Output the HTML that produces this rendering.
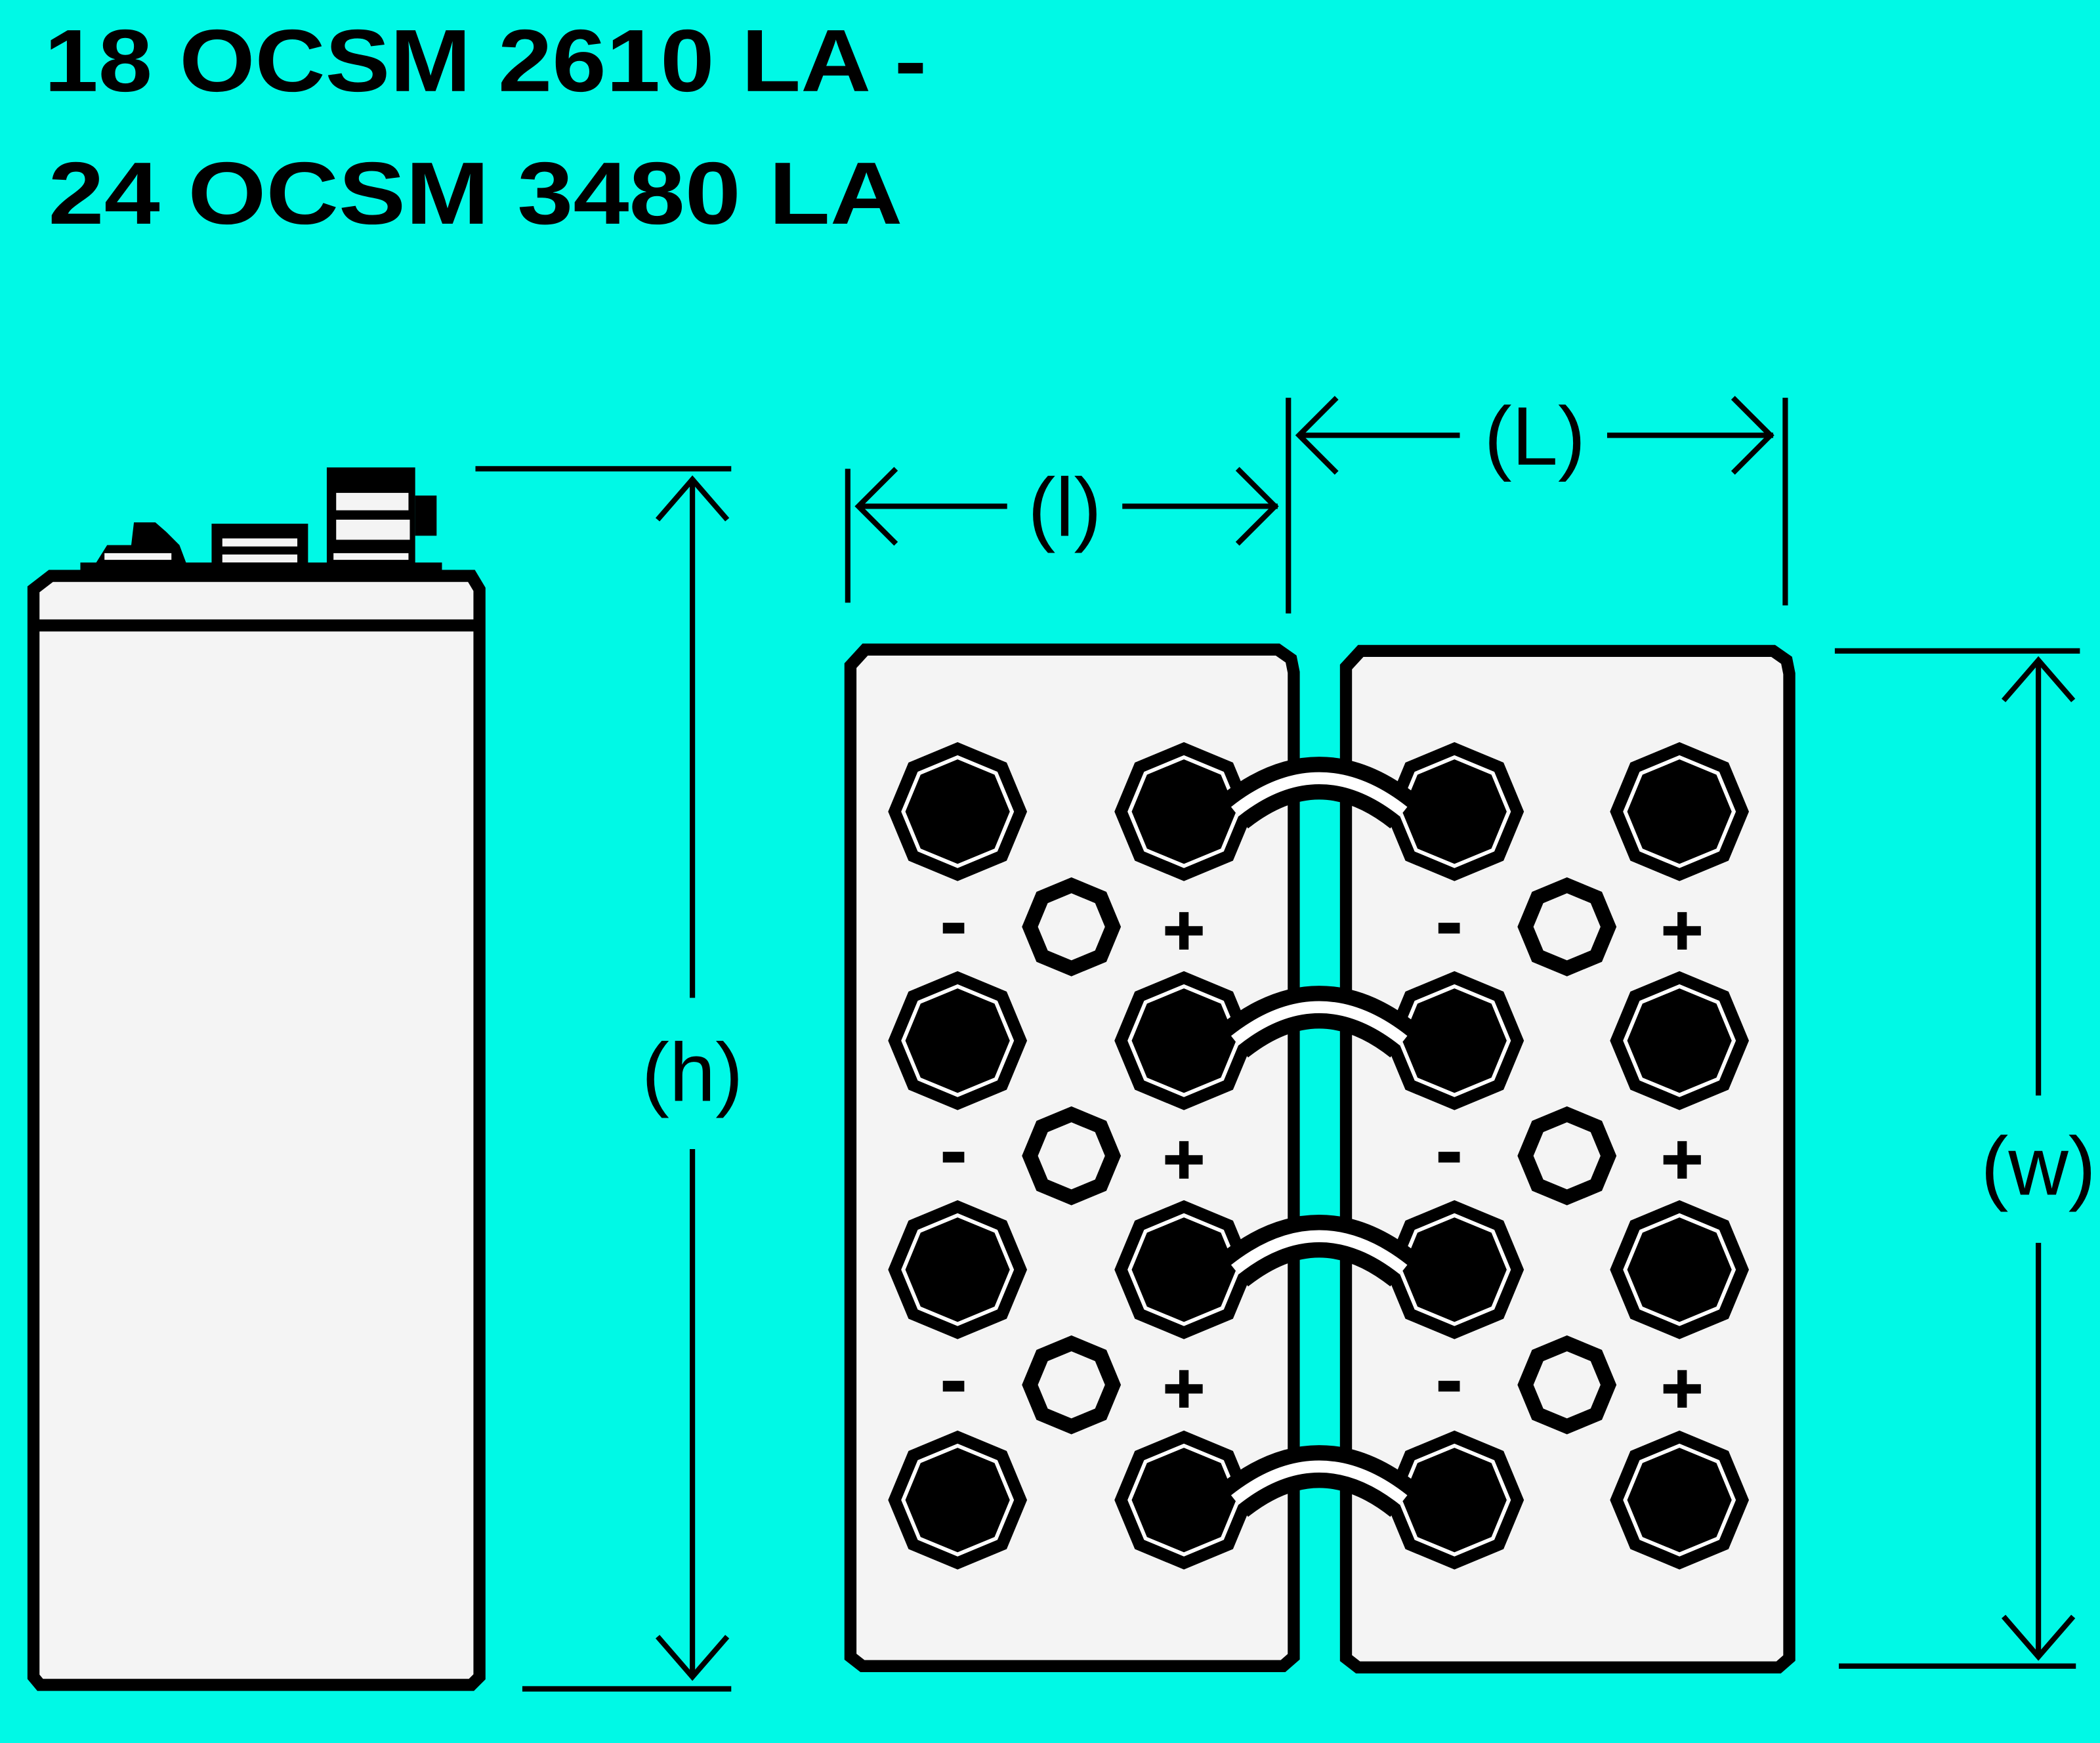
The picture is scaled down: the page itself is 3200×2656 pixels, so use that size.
<!DOCTYPE html>
<html><head><meta charset="utf-8"><style>
html,body{margin:0;padding:0;background:#00f9e6;}
svg{display:block;}
</style></head><body>
<svg width="3200" height="2656" viewBox="0 0 1568 1301.4" xmlns="http://www.w3.org/2000/svg">
<defs>
<g id="term">
<polygon points="47,0 33.2,33.2 0,47 -33.2,33.2 -47,0 -33.2,-33.2 0,-47 33.2,-33.2" fill="#fff" stroke="#000" stroke-width="9"/>
<polygon points="39,0 27.6,27.6 0,39 -27.6,27.6 -39,0 -27.6,-27.6 0,-39 27.6,-27.6" fill="#000"/>
</g>
<g id="vent">
<polygon points="31,0 21.9,21.9 0,31 -21.9,21.9 -31,0 -21.9,-21.9 0,-31 21.9,-21.9" fill="#f4f4f4" stroke="#000" stroke-width="11"/>
</g>
<path id="conn" d="M922,606 Q985,556 1048,606" fill="none"/>
</defs>
<rect width="1568" height="1301.4" fill="#00f9e6"/>

<g font-family="Liberation Sans, Arial, sans-serif" font-weight="bold" font-size="66" fill="#000">
<text x="33" y="68" textLength="659" lengthAdjust="spacingAndGlyphs">18 OCSM 2610 LA -</text>
<text x="36" y="167" textLength="638" lengthAdjust="spacingAndGlyphs">24 OCSM 3480 LA</text>
</g>

<!-- left cell side view -->
<path d="M70,423 L80,407 L98,407 L100,390 L116,390 L124,397 L134,407 L140,423 Z" fill="#000"/>
<rect x="158" y="391" width="72" height="35" fill="#000"/>
<rect x="166" y="402" width="56" height="6" fill="#f4f4f4"/>
<rect x="166" y="414" width="56" height="6" fill="#f4f4f4"/>
<rect x="244" y="349" width="66" height="77" fill="#000"/>
<rect x="310" y="370" width="16" height="30" fill="#000"/>
<rect x="251" y="368" width="54" height="13" fill="#f4f4f4"/>
<rect x="251" y="388" width="55" height="15" fill="#f4f4f4"/>
<rect x="249" y="413" width="56" height="5" fill="#f4f4f4"/>
<rect x="78" y="413" width="50" height="5" fill="#f4f4f4"/>
<rect x="60" y="420" width="270" height="10" fill="#000"/>
<path d="M38,430 L352,430 L358,440 L358,1252 L352,1258 L30,1258 L25,1252 L25,440 Z" fill="#f4f4f4" stroke="#000" stroke-width="9"/>
<line x1="25" y1="467" x2="361" y2="467" stroke="#000" stroke-width="9"/>

<!-- h dimension -->
<g stroke="#000" stroke-width="4" fill="none">
<line x1="355" y1="350" x2="546" y2="350"/>
<line x1="390" y1="1261" x2="546" y2="1261"/>
<line x1="517" y1="357" x2="517" y2="745"/>
<line x1="517" y1="858" x2="517" y2="1252"/>
<polyline points="491,388 517,358 543,388"/>
<polyline points="491,1222 517,1252 543,1222"/>
<line x1="633" y1="350" x2="633" y2="450"/>
<line x1="962" y1="297" x2="962" y2="458"/>
<line x1="641" y1="378" x2="752" y2="378"/>
<line x1="838" y1="378" x2="954" y2="378"/>
<polyline points="669,350 641,378 669,406"/>
<polyline points="924,350 952,378 924,406"/>
<line x1="1333" y1="297" x2="1333" y2="452"/>
<line x1="970" y1="325" x2="1090" y2="325"/>
<line x1="1200" y1="325" x2="1324" y2="325"/>
<polyline points="998,297 970,325 998,353"/>
<polyline points="1294,297 1322,325 1294,353"/>
<line x1="1370" y1="486" x2="1553" y2="486"/>
<line x1="1373" y1="1244" x2="1550" y2="1244"/>
<line x1="1522" y1="493" x2="1522" y2="818"/>
<line x1="1522" y1="928" x2="1522" y2="1237"/>
<polyline points="1496,523 1522,493 1548,523"/>
<polyline points="1496,1207 1522,1237 1548,1207"/>
</g>
<g font-family="Liberation Sans, Arial, sans-serif" font-size="62" fill="#000" text-anchor="middle">
<text x="517" y="822">(h)</text>
<text x="795" y="400">(l)</text>
<text x="1146" y="347">(L)</text>
<text x="1522" y="892">(w)</text>
</g>

<!-- plates -->
<path d="M646,485 L954,485 L964,492 L966,502 L966,1237 L958,1244 L644,1244 L635,1237 L635,497 Z" fill="#f4f4f4" stroke="#000" stroke-width="9"/>
<path d="M1016,486 L1324,486 L1334,493 L1336,503 L1336,1238 L1328,1245 L1014,1245 L1005,1238 L1005,498 Z" fill="#f4f4f4" stroke="#000" stroke-width="9"/>

<g>
<use href="#term" x="715" y="606"/><use href="#term" x="884" y="606"/><use href="#term" x="1086" y="606"/><use href="#term" x="1254" y="606"/>
<use href="#term" x="715" y="777"/><use href="#term" x="884" y="777"/><use href="#term" x="1086" y="777"/><use href="#term" x="1254" y="777"/>
<use href="#term" x="715" y="948"/><use href="#term" x="884" y="948"/><use href="#term" x="1086" y="948"/><use href="#term" x="1254" y="948"/>
<use href="#term" x="715" y="1120"/><use href="#term" x="884" y="1120"/><use href="#term" x="1086" y="1120"/><use href="#term" x="1254" y="1120"/>
</g>
<g>
<use href="#vent" x="800" y="692"/><use href="#vent" x="1170" y="692"/>
<use href="#vent" x="800" y="863"/><use href="#vent" x="1170" y="863"/>
<use href="#vent" x="800" y="1034"/><use href="#vent" x="1170" y="1034"/>
</g>
<g fill="none">
<g stroke="#000" stroke-width="32">
<use href="#conn"/><use href="#conn" y="171"/><use href="#conn" y="342"/><use href="#conn" y="514"/>
</g>
<g stroke="#fff" stroke-width="9">
<use href="#conn"/><use href="#conn" y="171"/><use href="#conn" y="342"/><use href="#conn" y="514"/>
</g>
</g>
<g fill="#000">
<rect x="704" y="689" width="16" height="8"/><rect x="1074" y="689" width="16" height="8"/>
<rect x="704" y="860" width="16" height="8"/><rect x="1074" y="860" width="16" height="8"/>
<rect x="704" y="1031" width="16" height="8"/><rect x="1074" y="1031" width="16" height="8"/>
</g>
<g stroke="#000" stroke-width="7">
<path d="M870,695 H898 M884,681 V709"/>
<path d="M1242,695 H1270 M1256,681 V709"/>
<path d="M870,866 H898 M884,852 V880"/>
<path d="M1242,866 H1270 M1256,852 V880"/>
<path d="M870,1037 H898 M884,1023 V1051"/>
<path d="M1242,1037 H1270 M1256,1023 V1051"/>
</g>
</svg>
</body></html>
